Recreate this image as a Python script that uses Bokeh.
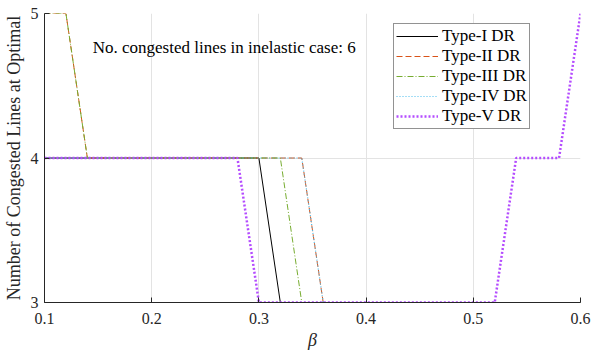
from bokeh.plotting import figure
from bokeh.models import Legend, LegendItem, Label, FixedTicker, Range1d
from bokeh.embed import file_html
from bokeh.resources import INLINE

beta = [0.10, 0.12, 0.14, 0.16, 0.18, 0.20, 0.22, 0.24, 0.26, 0.28, 0.30, 0.32, 0.34,
        0.36, 0.38, 0.40, 0.42, 0.44, 0.46, 0.48, 0.50, 0.52, 0.54, 0.56, 0.58, 0.60]
type1 = [4, 4, 4, 4, 4, 4, 4, 4, 4, 4, 4, 3, 3, 3, 3, 3, 3, 3, 3, 3, 3, 3, 3, 3, 3, 3]
type2 = [5, 5, 4, 4, 4, 4, 4, 4, 4, 4, 4, 4, 4, 3, 3, 3, 3, 3, 3, 3, 3, 3, 3, 3, 3, 3]
type3 = [5, 5, 4, 4, 4, 4, 4, 4, 4, 4, 4, 4, 3, 3, 3, 3, 3, 3, 3, 3, 3, 3, 3, 3, 3, 3]
type4 = [4, 4, 4, 4, 4, 4, 4, 4, 4, 4, 4, 4, 4, 3, 3, 3, 3, 3, 3, 3, 3, 3, 3, 3, 3, 3]
type5 = [4, 4, 4, 4, 4, 4, 4, 4, 4, 4, 3, 3, 3, 3, 3, 3, 3, 3, 3, 3, 3, 3, 4, 4, 4, 5]
names = ["Type-I DR", "Type-II DR", "Type-III DR", "Type-IV DR", "Type-V DR"]
x_ticks = [0.1, 0.2, 0.3, 0.4, 0.5, 0.6]
y_ticks = [3, 4, 5]
note = "No. congested lines in inelastic case: 6"

FONT = "Liberation Serif"

p = figure(width=593, height=353, output_backend="svg", toolbar_location=None,
           x_range=Range1d(0.1, 0.6), y_range=Range1d(3, 5),
           min_border_left=44, min_border_right=13, min_border_top=13, min_border_bottom=51)
p.outline_line_color = None
p.background_fill_color = "white"

styles = [
    dict(color="black", line_width=1.0, line_dash="solid"),
    dict(color="#D95319", line_width=1.0, line_dash="6 3"),
    dict(color="#77AC30", line_width=1.0, line_dash="6 2 1 2"),
    dict(color="#4DBEEE", line_width=1.2, line_dash="1 2"),
    dict(color="#B44CFF", line_width=2.5, line_dash="2 2"),
]
series = [type1, type2, type3, type4, type5]
items = []
for name, ys, st in zip(names, series, styles):
    r = p.line(beta, ys, line_color=st["color"], line_width=st["line_width"], line_dash=st["line_dash"])
    items.append(LegendItem(label=name, renderers=[r]))

legend = Legend(items=items, location=(349, 173))
legend.label_text_font = FONT
legend.label_text_font_size = "17px"
legend.label_text_color = "black"
legend.border_line_color = "#262626"
legend.border_line_width = 1
legend.background_fill_color = "white"
legend.background_fill_alpha = 1
legend.glyph_width = 42
legend.glyph_height = 20
legend.label_height = 20
legend.spacing = 0
legend.padding = 2
legend.margin = 0
legend.label_standoff = 4
p.add_layout(legend, "center")

p.add_layout(Label(x=0.145, y=4.765, text=note, text_font=FONT, text_font_size="17px",
                   text_color="black", text_baseline="middle"))

for ax in (p.xaxis, p.yaxis):
    ax.axis_line_color = "#262626"
    ax.major_tick_line_color = "#262626"
    ax.major_tick_in = 5
    ax.major_tick_out = 0
    ax.minor_tick_line_color = None
    ax.major_label_text_font = FONT
    ax.major_label_text_font_size = "16px"
    ax.major_label_text_color = "#262626"
    ax.axis_label_text_font = FONT
    ax.axis_label_text_font_size = "18px"
    ax.axis_label_text_font_style = "normal"
    ax.axis_label_text_color = "#262626"

p.xaxis.ticker = FixedTicker(ticks=x_ticks)
p.yaxis.ticker = FixedTicker(ticks=y_ticks)
p.xaxis.axis_label = "β"
p.xaxis.axis_label_text_font_style = "italic"
p.xaxis.axis_label_text_font_size = "18px"
p.xaxis.axis_label_standoff = 3
p.yaxis.axis_label = "Number of Congested Lines at Optimal"
p.yaxis.axis_label_standoff = 4
p.xaxis.major_label_standoff = 10
p.yaxis.major_label_standoff = 6

p.xgrid.grid_line_color = "#e3e3e3"
p.ygrid.grid_line_color = "#e3e3e3"
p.xgrid.ticker = FixedTicker(ticks=x_ticks)
p.ygrid.ticker = FixedTicker(ticks=y_ticks)

open("out.html", "w").write(file_html(p, INLINE))
